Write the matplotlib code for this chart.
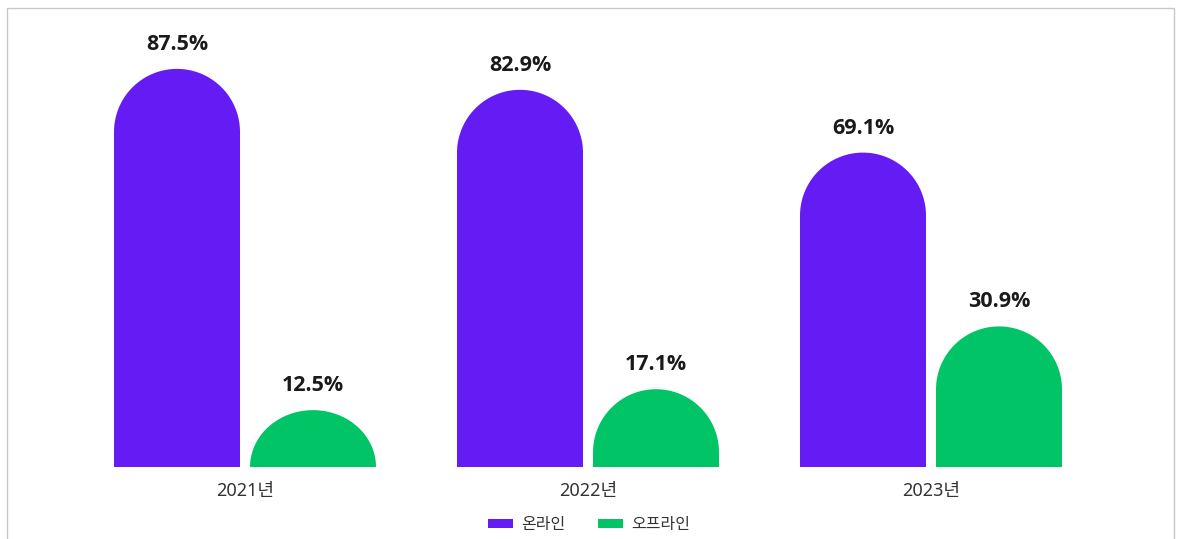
import matplotlib

matplotlib.use("Agg")
import matplotlib.pyplot as plt
import numpy as np
from matplotlib.patches import Patch, PathPatch, Rectangle
from matplotlib.path import Path

plt.rcParams["font.family"] = ["Noto Sans", "Noto Sans CJK KR", "DejaVu Sans"]

years = ["2021년", "2022년", "2023년"]
series = ["온라인", "오프라인"]
online = [87.5, 82.9, 69.1]
offline = [12.5, 17.1, 30.9]
colors = ["#651BF4", "#00C466"]

W, H, DPI = 1178, 539, 100
fig = plt.figure(figsize=(W / DPI, H / DPI), dpi=DPI)

# axes placed in pixel terms so the rounded caps come out circular
ax_left, ax_right, ax_bottom, ax_top = 20, 1160, 72, 519
ax = fig.add_axes([ax_left / W, ax_bottom / H, (ax_right - ax_left) / W, (ax_top - ax_bottom) / H])

px_per_x = 343.0
px_per_y = 4.55
g0 = 245
ax.set_xlim(-(g0 - ax_left) / px_per_x, (ax_right - g0) / px_per_x)
ax.set_ylim(0, (ax_top - ax_bottom) / px_per_y)

bar_w = 126 / px_per_x
offset = 68 / px_per_x


def rounded_bar(ax, xc, h, w, color):
    rx = w / 2
    ry = (w / 2) * px_per_x / px_per_y
    cap = min(ry, h)
    body = h - cap
    t = np.linspace(np.pi, 0, 60)
    arc = np.column_stack([xc + rx * np.cos(t), body + cap * np.sin(t)])
    verts = np.vstack([[xc - rx, 0], arc, [xc + rx, 0], [xc - rx, 0]])
    codes = [Path.MOVETO] + [Path.LINETO] * (len(verts) - 2) + [Path.CLOSEPOLY]
    ax.add_patch(PathPatch(Path(verts, codes), facecolor=color, edgecolor="none"))


x = np.arange(len(years))
for vals, dx, color in [(online, -offset, colors[0]), (offline, offset, colors[1])]:
    for xi, v in zip(x, vals):
        rounded_bar(ax, xi + dx, v, bar_w, color)
        ax.text(xi + dx, v + 14 / px_per_y, f"{v}%", ha="center", va="bottom",
                fontsize=15.5, fontweight="bold", color="#1a1a1a",
                family=["Open Sans", "DejaVu Sans"])

ax.set_xticks(x)
ax.set_xticklabels(years, fontsize=13, color="#333333")
ax.tick_params(axis="x", length=0, pad=11)
ax.set_yticks([])
for s in ax.spines.values():
    s.set_visible(False)

handles = [Patch(facecolor=c, edgecolor="none") for c in colors]
fig.legend(handles, series, loc="center", bbox_to_anchor=(589 / W, 1 - 525 / H),
           ncol=2, frameon=False, fontsize=11.5, handlelength=1.6, handleheight=0.45,
           columnspacing=2.0, handletextpad=0.5, labelcolor="#333333")

# thin grey frame around the chart
fig.add_artist(Rectangle((7 / W, -0.05), (1174 - 7) / W, 1 - 8 / H + 0.05,
                         transform=fig.transFigure, fill=False, edgecolor="#c8c8c8", linewidth=1))

fig.savefig("out.png", dpi=DPI)
